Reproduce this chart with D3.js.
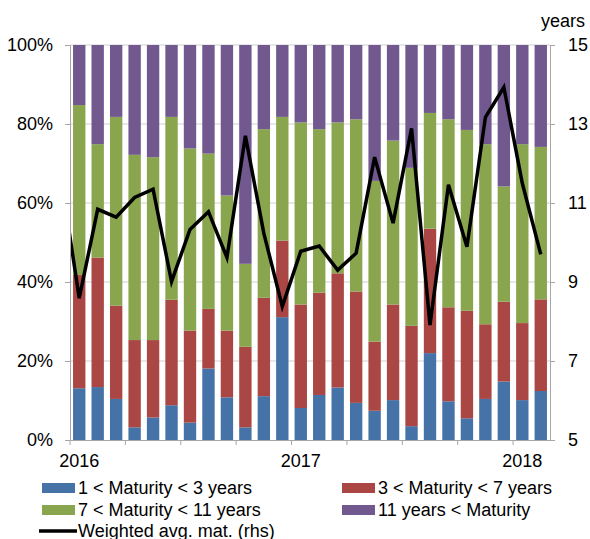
<!DOCTYPE html>
<html>
<head>
<meta charset="utf-8">
<script src="https://cdn.jsdelivr.net/npm/d3@7/dist/d3.min.js"></script>
<style>
	body { margin: 0; background: #fff; }
	svg { display: block; font-family: "Liberation Sans", Arial, sans-serif; }
	.tick text { font-size: 18px; fill: #000; }
</style>
</head>
<body>
<main></main>
<script>
// monthly categories, Jan 2016 - Feb 2018
const months = ["2016-01","2016-02","2016-03","2016-04","2016-05","2016-06","2016-07","2016-08","2016-09","2016-10","2016-11","2016-12",
	"2017-01","2017-02","2017-03","2017-04","2017-05","2017-06","2017-07","2017-08","2017-09","2017-10","2017-11","2017-12",
	"2018-01","2018-02"];

// shares of issuance (%) per maturity bucket
const mat1to3 = [13.1,13.4,10.4,3.2,5.7,8.8,4.4,18.1,10.8,3.2,11.1,31.1,8.1,11.4,13.3,9.4,7.4,10.1,3.5,22.0,9.8,5.5,10.4,14.8,10.1,12.4];
const mat3to7 = [28.7,32.8,23.6,22.1,19.6,26.7,23.3,15.1,16.9,20.4,24.9,19.4,26.2,25.9,28.9,28.2,17.5,24.2,25.4,31.5,23.8,27.2,18.9,20.2,19.5,23.2];
const mat7to11 = [43.0,28.7,47.8,46.9,46.3,46.3,46.1,39.3,34.2,21.0,42.7,31.3,46.1,41.4,38.2,43.6,40.7,41.5,40.0,29.3,47.6,45.8,45.6,29.2,45.3,38.6];
const mat11plus = [15.2,25.1,18.2,27.8,28.4,18.2,26.2,27.5,38.1,55.4,21.3,18.2,19.6,21.3,19.6,18.8,34.4,24.2,31.1,17.2,18.8,21.5,25.1,35.8,25.1,25.8];

// weighted average maturity (years), starting with Dec 2015 (clipped at the left edge)
const avgMaturity = [11.69,8.59,10.84,10.64,11.14,11.35,9.01,10.33,10.78,9.62,12.70,10.23,8.38,9.78,
	9.91,9.30,9.73,12.16,10.49,12.89,7.91,11.46,9.89,13.17,13.93,11.50,9.70];

const seriesNames = ["1 < Maturity < 3 years","3 < Maturity < 7 years","7 < Maturity < 11 years","11 years < Maturity"];
const colors = ["#4572A7","#AA4643","#89A54E","#71588F"];
const yearLabels = {"2016-01":"2016","2017-01":"2017","2018-01":"2018"};

const w=590,
	h=539,
	plotLeft=70,
	plotRight=550,
	plotTop=45,
	plotBottom=440;

const rows = months.map((m,i)=>({month:m, s0:mat1to3[i], s1:mat3to7[i], s2:mat7to11[i], s3:mat11plus[i]}));
const stacked = d3.stack().keys(["s0","s1","s2","s3"])(rows);

const svg = d3.select("main")
	.append("svg")
	.attr("width", w)
	.attr("height", h);

const xScale = d3.scaleBand()
	.domain(months)
	.range([plotLeft, plotRight])
	.paddingInner(0.33)
	.paddingOuter(0.165);

const xPos = d3.scaleLinear()
	.domain([-0.5, months.length-0.5])
	.range([plotLeft, plotRight]);

const yScale = d3.scaleLinear()
	.domain([0,100])
	.range([plotBottom, plotTop]);

const y2Scale = d3.scaleLinear()
	.domain([5,15])
	.range([plotBottom, plotTop]);

// gridlines
svg.append("g")
	.selectAll("line")
	.data([20,40,60,80,100])
	.enter()
	.append("line")
	.attr("x1", plotLeft)
	.attr("x2", plotRight)
	.attr("y1", (d)=>yScale(d))
	.attr("y2", (d)=>yScale(d))
	.attr("stroke", "#d0d0d0")
	.attr("stroke-width", 1);

// stacked bars
svg.append("g")
	.selectAll("g")
	.data(stacked)
	.enter()
	.append("g")
	.attr("fill", (d,i)=>colors[i])
	.selectAll("rect")
	.data((d)=>d)
	.enter()
	.append("rect")
	.attr("x", (d)=>xScale(d.data.month))
	.attr("width", xScale.bandwidth())
	.attr("y", (d)=>yScale(d[1]))
	.attr("height", (d)=>yScale(d[0])-yScale(d[1]));

// weighted avg maturity line
svg.append("clipPath")
	.attr("id", "plotclip")
	.append("rect")
	.attr("x", plotLeft)
	.attr("y", 0)
	.attr("width", plotRight-plotLeft)
	.attr("height", h);

const line = d3.line()
	.x((d,i)=>xPos(i-1))
	.y((d)=>y2Scale(d));

svg.append("path")
	.datum(avgMaturity)
	.attr("clip-path", "url(#plotclip)")
	.attr("fill", "none")
	.attr("stroke", "#000")
	.attr("stroke-width", 3.5)
	.attr("stroke-linejoin", "miter")
	.attr("d", line);

//Y Axis left
const yAxis = d3.axisLeft(yScale).tickValues([0,20,40,60,80,100]).tickFormat((d)=>d+"%").tickSize(5).tickPadding(12);
const gy = svg.append("g")
	.attr("transform", "translate("+(plotLeft)+",0)")
	.call(yAxis);

//Y Axis right
const y2Axis = d3.axisRight(y2Scale).tickValues([5,7,9,11,13,15]).tickSize(5).tickPadding(13);
const gy2 = svg.append("g")
	.attr("transform", "translate("+(plotRight)+",0)")
	.call(y2Axis);

//X Axis
const xAxis = d3.axisBottom(xScale).tickSize(0).tickPadding(14).tickFormat((d)=>yearLabels[d] || "");
const gx = svg.append("g")
	.attr("transform", "translate(0,"+(plotBottom)+")")
	.call(xAxis);

// quarterly tick marks on category boundaries
svg.append("g")
	.selectAll("line")
	.data(d3.range(0, months.length, 3))
	.enter()
	.append("line")
	.attr("x1", (d)=>xPos(d-0.5))
	.attr("x2", (d)=>xPos(d-0.5))
	.attr("y1", plotBottom)
	.attr("y2", plotBottom+5)
	.attr("stroke", "#a6a6a6");

[gy, gy2, gx].forEach((g)=>{
	g.select(".domain").attr("stroke", "#a6a6a6");
	g.selectAll(".tick line").attr("stroke", "#a6a6a6");
});

svg.append("text")
	.attr("x", 585)
	.attr("y", 27)
	.attr("text-anchor", "end")
	.style("font-size", "18px")
	.text("years");

// Legend
const legendItems = [
	{name:seriesNames[0], color:colors[0], x:42, y:488},
	{name:seriesNames[1], color:colors[1], x:342, y:488},
	{name:seriesNames[2], color:colors[2], x:42, y:510},
	{name:seriesNames[3], color:colors[3], x:342, y:510}
];
const legend = svg.append("g");
legend.selectAll("rect")
	.data(legendItems)
	.enter()
	.append("rect")
	.attr("x", (d)=>d.x)
	.attr("y", (d)=>d.y-5)
	.attr("width", 33)
	.attr("height", 10)
	.attr("fill", (d)=>d.color);
legend.selectAll("text")
	.data(legendItems)
	.enter()
	.append("text")
	.attr("x", (d)=>d.x+36)
	.attr("y", (d)=>d.y)
	.attr("dy", "0.35em")
	.style("font-size", "18px")
	.text((d)=>d.name);
legend.append("line")
	.attr("x1", 39)
	.attr("x2", 77)
	.attr("y1", 531)
	.attr("y2", 531)
	.attr("stroke", "#000")
	.attr("stroke-width", 3.5);
legend.append("text")
	.attr("x", 78)
	.attr("y", 531)
	.attr("dy", "0.35em")
	.style("font-size", "18px")
	.text("Weighted avg. mat. (rhs)");
</script>
</body>
</html>
